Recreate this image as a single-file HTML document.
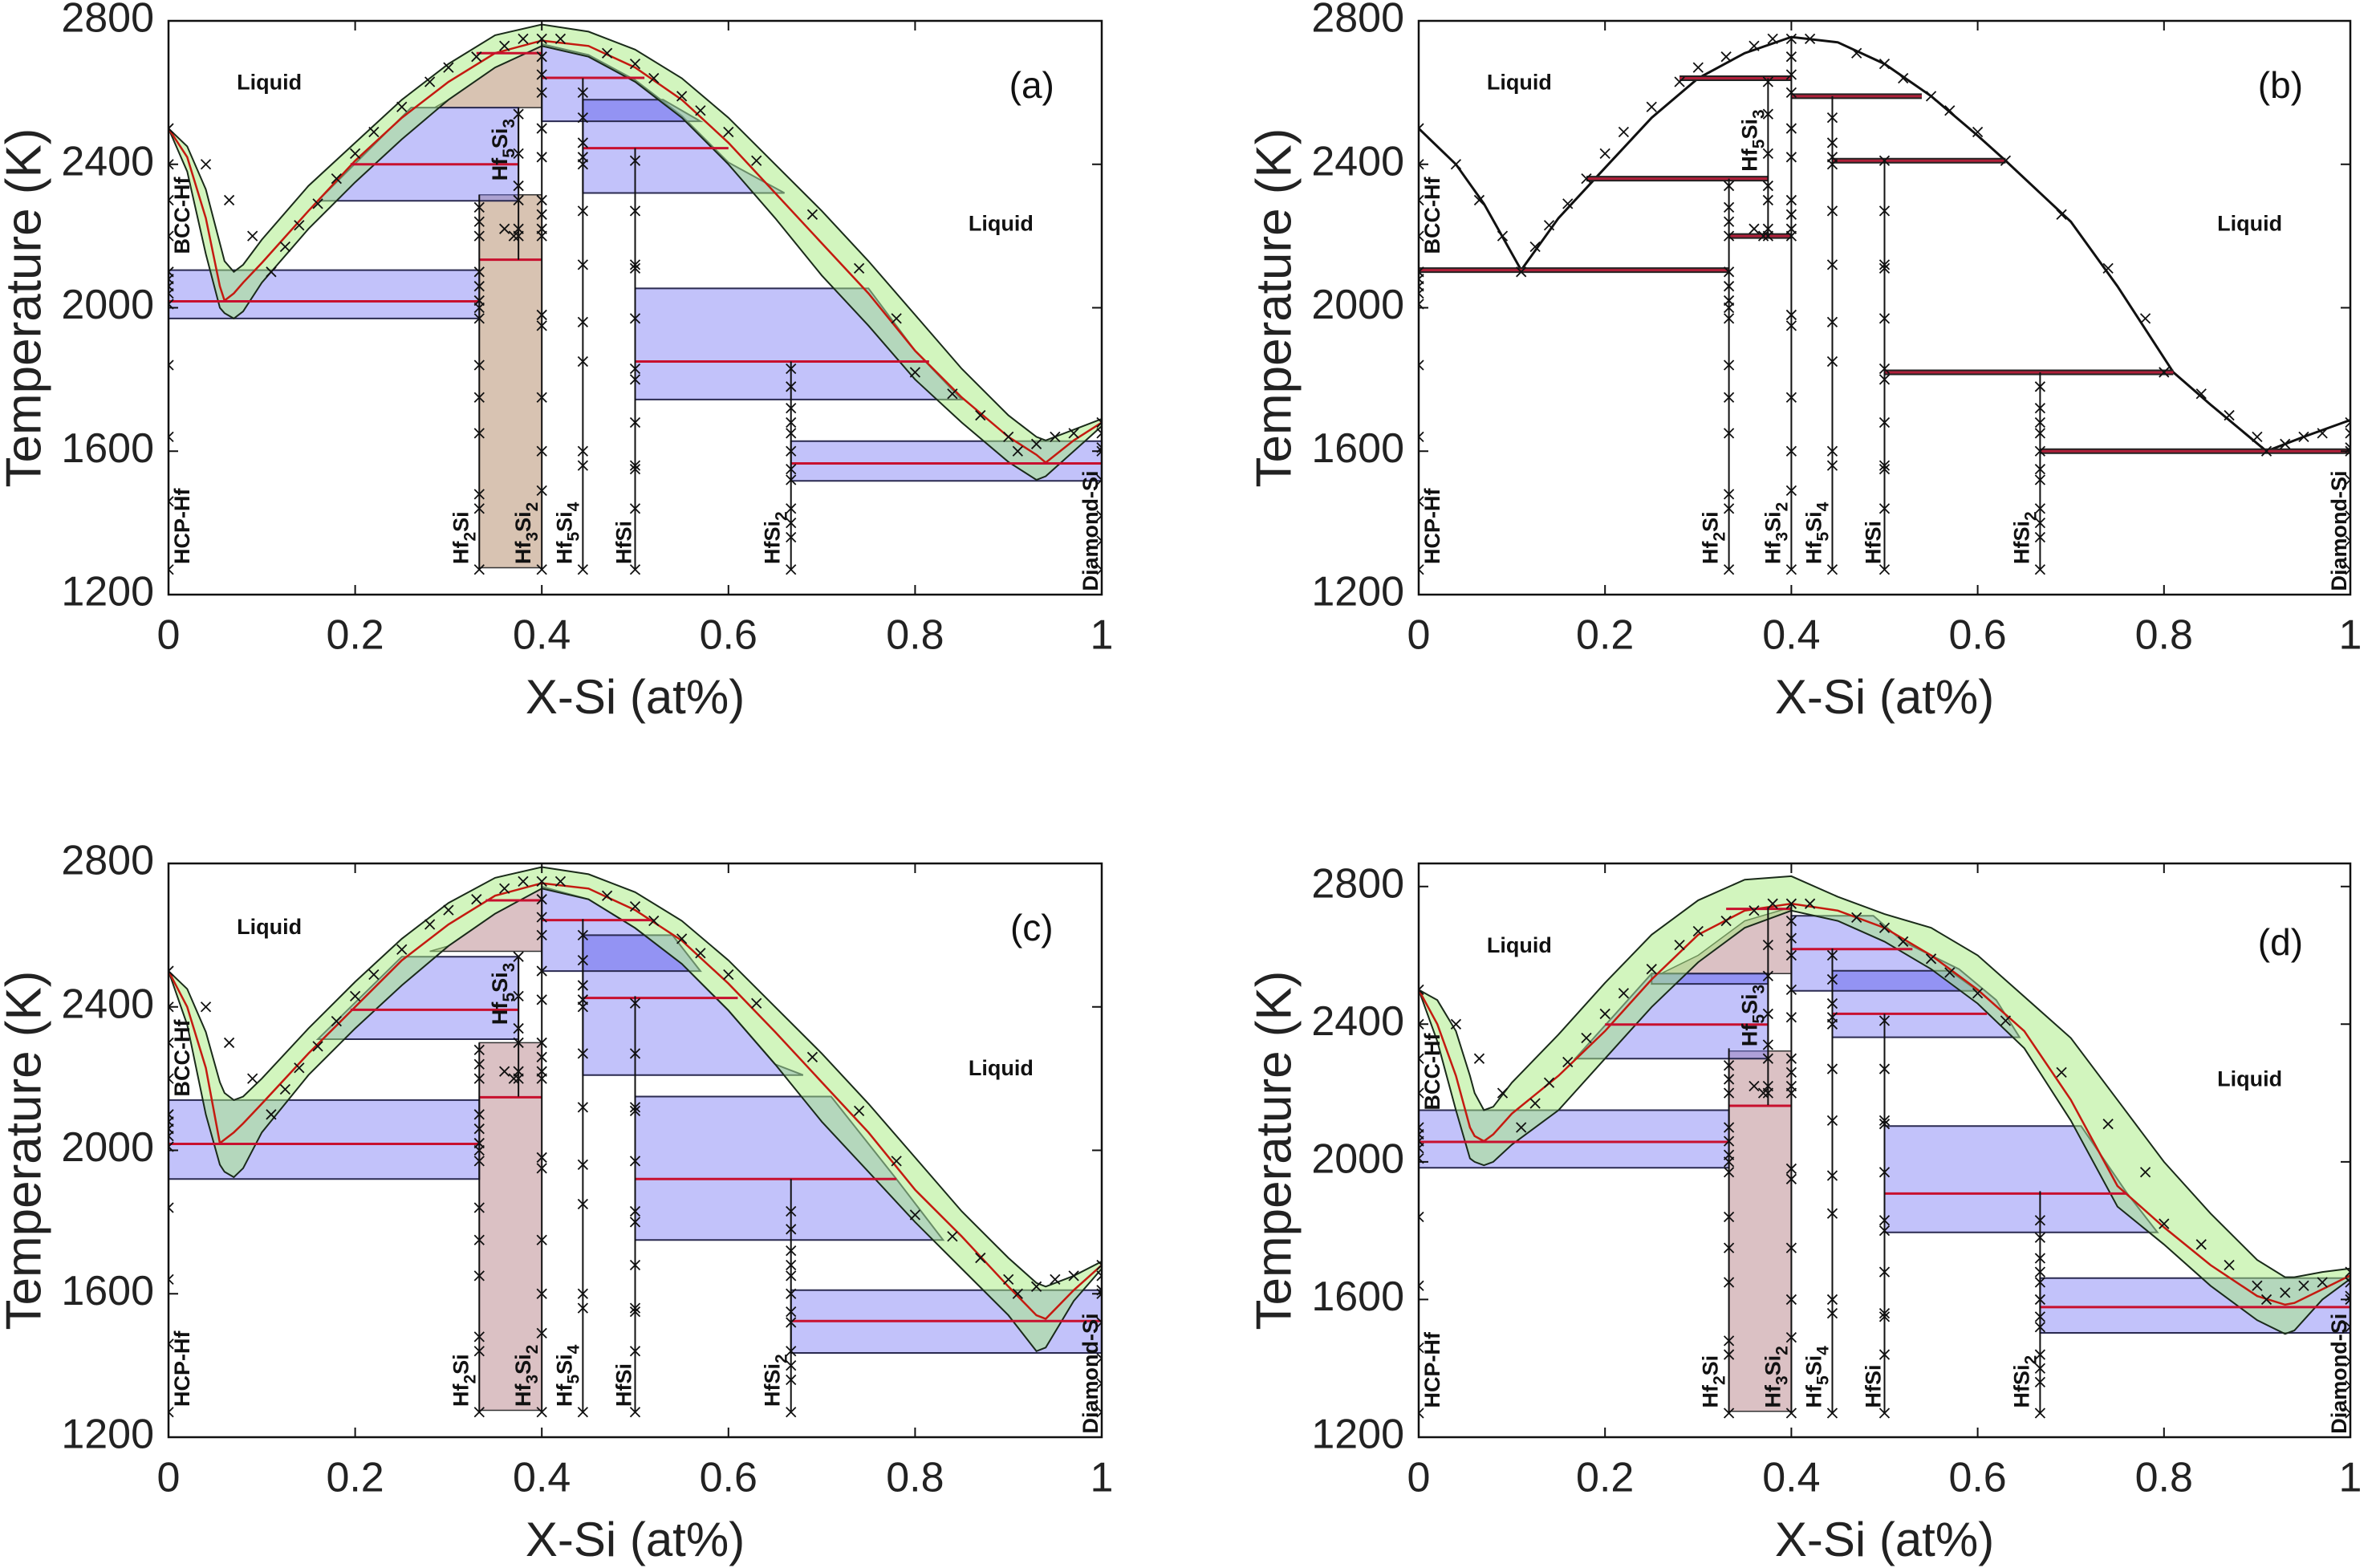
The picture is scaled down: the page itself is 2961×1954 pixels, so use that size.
<!DOCTYPE html>
<html><head><meta charset="utf-8"><style>html,body{margin:0;padding:0;background:#fff}svg{display:block}</style></head>
<body>
<svg id="fig" xmlns="http://www.w3.org/2000/svg" width="2961" height="1954" viewBox="0 0 2961 1954">
<rect x="0" y="0" width="2961" height="1954" fill="#ffffff"/>
</svg>
<script>
// ---------- data ----------
const liqX=[0,0.02,0.04,0.055,0.06,0.07,0.08,0.1,0.15,0.2,0.25,0.3,0.35,0.4,0.45,0.5,0.55,0.6,0.65,0.7,0.75,0.8,0.85,0.9,0.93,0.94,0.97,1];
const aLiqT=[2500,2420,2250,2060,2020,2040,2070,2125,2270,2410,2530,2630,2710,2745,2730,2670,2580,2460,2320,2180,2040,1880,1750,1640,1590,1568,1630,1680];
const aLiqHi=[2500,2450,2330,2180,2130,2100,2120,2190,2340,2460,2580,2680,2760,2790,2770,2720,2640,2530,2400,2270,2130,1980,1830,1700,1640,1630,1660,1690];
const aLiqLo=[2500,2380,2150,2000,1985,1970,1990,2070,2220,2350,2470,2580,2670,2730,2700,2630,2530,2400,2250,2090,1950,1800,1680,1570,1520,1530,1600,1670];
const cLiqT=[2500,2400,2230,2020,2030,2050,2075,2130,2270,2400,2530,2630,2710,2745,2730,2670,2585,2465,2330,2190,2050,1890,1760,1620,1540,1530,1610,1680];
const cLiqHi=[2500,2450,2330,2190,2160,2140,2150,2200,2340,2470,2590,2690,2760,2790,2770,2720,2640,2530,2400,2270,2130,1980,1830,1700,1630,1620,1650,1690];
const cLiqLo=[2500,2350,2100,1960,1940,1925,1950,2050,2210,2340,2460,2570,2660,2730,2700,2620,2520,2390,2240,2080,1940,1800,1670,1540,1440,1450,1580,1670];
const dLiqT=[2500,2400,2250,2100,2075,2060,2080,2140,2250,2380,2530,2660,2730,2750,2730,2680,2600,2500,2380,2180,1930,1810,1700,1610,1585,1590,1630,1670];
const dLiqHi=[2500,2470,2380,2250,2200,2150,2160,2230,2370,2520,2660,2760,2820,2830,2770,2720,2680,2600,2480,2360,2180,2000,1850,1715,1665,1665,1680,1690];
const dLiqLo=[2500,2350,2150,2010,2000,1990,2000,2050,2150,2300,2450,2580,2680,2730,2700,2640,2560,2460,2330,2120,1870,1760,1640,1540,1500,1510,1600,1660];
const bLiqX=[0,0.04,0.07,0.11,0.15,0.2,0.25,0.3,0.35,0.4,0.45,0.5,0.55,0.6,0.63,0.7,0.75,0.81,0.85,0.91,0.95,1];
const bLiqT=[2500,2400,2290,2105,2250,2390,2530,2640,2710,2755,2740,2680,2590,2480,2410,2240,2060,1820,1730,1600,1640,1687];

const aBlue=[[[0,2105],[0.333,2105],[0.333,1970],[0,1970]],[[0.26,2558],[0.375,2558],[0.375,2298],[0.16,2298]],[[0.4,2735],[0.45,2705],[0.5,2635],[0.55,2535],[0.6,2405],[0.66,2320],[0.444,2320],[0.444,2520],[0.4,2520]],[[0.5,2054],[0.75,2054],[0.8,1880],[0.85,1744],[0.5,1744]],[[0.667,1628],[1,1628],[1,1517],[0.667,1517]]];
const aDark=[[[0.444,2580],[0.53,2580],[0.57,2520],[0.444,2520]]];
const aBrown=[[[0.333,2315],[0.4,2315],[0.4,1275],[0.333,1275]],[[0.285,2558],[0.4,2558],[0.4,2730],[0.35,2670],[0.3,2580]]];
const aRed=[[0,0.333,2018],[0.195,0.375,2400],[0.333,0.4,2134],[0.33,0.4,2710],[0.4,0.51,2641],[0.444,0.6,2445],[0.5,0.815,1850],[0.667,1,1566]];

const cBlue=[[[0,2140],[0.333,2140],[0.333,1920],[0,1920]],[[0.25,2540],[0.375,2540],[0.375,2310],[0.16,2310]],[[0.4,2735],[0.45,2700],[0.5,2620],[0.55,2520],[0.6,2390],[0.65,2240],[0.68,2210],[0.444,2210],[0.444,2500],[0.4,2500]],[[0.5,2150],[0.71,2150],[0.78,1920],[0.83,1750],[0.5,1750]],[[0.667,1610],[1,1610],[1,1435],[0.667,1435]]];
const cDark=[[[0.444,2600],[0.54,2600],[0.57,2500],[0.444,2500]]];
const cBrown=[[[0.333,2300],[0.4,2300],[0.4,1275],[0.333,1275]],[[0.28,2555],[0.4,2555],[0.4,2730],[0.35,2660],[0.3,2570]]];
const cRed=[[0,0.333,2018],[0.195,0.375,2392],[0.333,0.4,2148],[0.34,0.4,2697],[0.4,0.52,2642],[0.444,0.61,2425],[0.5,0.78,1920],[0.667,1,1524]];

const dBlue=[[[0,2150],[0.333,2150],[0.333,1983],[0,1983]],[[0.25,2547],[0.375,2547],[0.375,2300],[0.168,2300]],[[0.4,2715],[0.488,2715],[0.52,2640],[0.58,2560],[0.62,2470],[0.645,2362],[0.444,2362],[0.444,2497],[0.4,2497]],[[0.5,2104],[0.711,2104],[0.76,1910],[0.793,1795],[0.5,1795]],[[0.667,1662],[1,1662],[1,1503],[0.667,1503]]];
const dDark=[[[0.444,2555],[0.57,2555],[0.6,2497],[0.444,2497]],[[0.25,2547],[0.375,2547],[0.375,2517],[0.25,2517]]];
const dBrown=[[[0.333,2322],[0.4,2322],[0.4,1275],[0.333,1275]],[[0.26,2547],[0.4,2547],[0.4,2740],[0.35,2700],[0.3,2600]]];
const dRed=[[0,0.333,2058],[0.2,0.375,2399],[0.333,0.4,2163],[0.33,0.4,2735],[0.4,0.53,2618],[0.444,0.61,2430],[0.5,0.76,1908],[0.667,1,1578]];

const bLines=[[0,0.333,2105],[0.18,0.375,2360],[0.28,0.4,2640],[0.333,0.4,2200],[0.4,0.54,2590],[0.444,0.63,2410],[0.5,0.81,1820],[0.667,1,1600]];

const vX=[0.333,0.375,0.4,0.444,0.5,0.667];
const aVTop=[2315,2558,2750,2640,2445,1850]; const aVBot=[1270,2134,1270,1270,1270,1270];
const bVTop=[2360,2640,2755,2590,2410,1820]; const bVBot=[1270,2200,1270,1270,1270,1270];
const cVTop=[2300,2540,2745,2645,2430,1920]; const cVBot=[1270,2150,1270,1270,1270,1270];
const dVTop=[2330,2740,2750,2620,2430,1915]; const dVBot=[1270,2165,1270,1270,1270,1270];

const vCrossT=[[1270,1440,1480,1650,1750,1840,1970,2000,2020,2060,2100,2200,2240,2280,2340],[2200,2220,2300,2340,2430,2540,2630],[1270,1490,1600,1750,1950,1980,2200,2220,2260,2300,2420,2500,2600,2650,2700,2750],[1270,1560,1600,1850,1960,2120,2270,2400,2420,2460,2530,2600],[1270,1440,1550,1560,1680,1800,1830,1970,2110,2120,2270,2410],[1270,1360,1400,1440,1520,1550,1600,1650,1680,1720,1780,1830]];
const edge0T=[1270,1460,1640,1840,2010,2040,2060,2080,2100,2200,2300,2400,2500];
const edge1T=[1270,1350,1420,1520,1600,1610,1650,1680];
const expX=[0.04,0.065,0.09,0.11,0.125,0.14,0.16,0.18,0.2,0.22,0.25,0.28,0.3,0.33,0.36,0.38,0.42,0.47,0.5,0.52,0.55,0.57,0.6,0.63,0.69,0.74,0.78,0.8,0.84,0.87,0.9,0.91,0.93,0.95,0.97,0.37,0.36];
const expT=[2400,2300,2200,2100,2170,2230,2290,2360,2430,2490,2560,2630,2670,2700,2730,2750,2750,2710,2680,2640,2590,2550,2490,2410,2260,2110,1970,1820,1760,1700,1640,1600,1620,1640,1650,2200,2220];

const xTicks=[0,0.2,0.4,0.6,0.8,1];
const xTickLabels=['0','0.2','0.4','0.6','0.8','1'];
const yTicks=[1200,1600,2000,2400,2800];
const yTickLabels=['1200','1600','2000','2400','2800'];

// ---------- drawing ----------
const NS='http://www.w3.org/2000/svg';
const svg=document.getElementById('fig');
function mk(tag,attrs,parent){const e=document.createElementNS(NS,tag);for(const k in attrs)e.setAttribute(k,attrs[k]);parent.appendChild(e);return e;}
const FONT='"Liberation Sans", Arial, sans-serif';

function panel(id,L,D){
  const g=mk('g',{},svg);
  
  
  const sx=x=>L.x0+x*(L.x1-L.x0);
  const sy=t=>L.y1-(t-1200)/(L.tmax-1200)*(L.y1-L.y0);
  const pts=arr=>arr.map(p=>sx(p[0]).toFixed(1)+','+sy(p[1]).toFixed(1)).join(' ');
  const cp=mk('clipPath',{id:'clip'+id},g);
  mk('rect',{x:L.x0,y:L.y0,width:L.x1-L.x0,height:L.y1-L.y0},cp);
  const plot=mk('g',{'clip-path':'url(#clip'+id+')'},g);
  
  
  (D.brown||[]).forEach(p=>{const e=mk('polygon',{points:pts(p),fill:D.brownCol,stroke:'#333','stroke-width':1.5},plot);
    
    });
  (D.blue||[]).forEach(p=>{const e=mk('polygon',{points:pts(p),fill:'rgba(120,120,245,0.45)',stroke:'#2a2a50','stroke-width':2},plot);
    
    });
  (D.dark||[]).forEach(p=>{const e=mk('polygon',{points:pts(p),fill:'rgba(90,90,235,0.45)',stroke:'#2a2a50','stroke-width':2},plot);
    
    });
  if(D.hi){
    const hiP=D.x.map((x,i)=>[x,D.hi[i]]), loP=D.x.map((x,i)=>[x,D.lo[i]]);
    const band=mk('polygon',{points:pts(hiP.concat(loP.slice().reverse())),fill:'rgba(165,235,125,0.5)',stroke:'none'},plot);
    
    
    [hiP,loP].forEach(a=>{const e=mk('polyline',{points:pts(a),fill:'none',stroke:'#1a2a1a','stroke-width':2},plot);
      
      });
    const mid=mk('polyline',{points:pts(D.x.map((x,i)=>[x,D.t[i]])),fill:'none',stroke:'#c41a10','stroke-width':2.5},plot);
    
    
  } else {
    const liq=mk('polyline',{points:pts(D.x.map((x,i)=>[x,D.t[i]])),fill:'none',stroke:'#111','stroke-width':3},plot);
    
    
  }
  (D.red||[]).forEach(r=>{const e=mk('line',{x1:sx(r[0]),x2:sx(r[1]),y1:sy(r[2]),y2:sy(r[2]),stroke:'#c8102e','stroke-width':3},plot);
    
    });
  (D.lines||[]).forEach(r=>{const e=mk('line',{x1:sx(r[0]),x2:sx(r[1]),y1:sy(r[2]),y2:sy(r[2]),stroke:'#222','stroke-width':7},plot);
    
    
    const r2=mk('line',{x1:sx(r[0]),x2:sx(r[1]),y1:sy(r[2]),y2:sy(r[2]),stroke:'#b0203a','stroke-width':3},plot);
    
    });
  vX.forEach((x,i)=>{const e=mk('line',{x1:sx(x),x2:sx(x),y1:sy(D.vBot[i]),y2:sy(D.vTop[i]),stroke:'#111','stroke-width':2},plot);
    
    });
  const cross=(x,t,name)=>{const X=sx(x),Y=sy(t),s=6;
    const e=mk('path',{d:`M${X-s} ${Y-s}L${X+s} ${Y+s}M${X-s} ${Y+s}L${X+s} ${Y-s}`,stroke:'#111','stroke-width':1.8,fill:'none'},plot);
    
    };
  vX.forEach((x,i)=>vCrossT[i].forEach(t=>{if(t>=D.vBot[i]-5&&t<=D.vTop[i]+5)cross(x,t,'compound-data-point');}));
  edge0T.forEach(t=>cross(0,t,'hf-data-point'));
  edge1T.forEach(t=>cross(1,t,'si-data-point'));
  expX.forEach((x,i)=>cross(x,expT[i],'liquidus-data-point'));
  const lab=(txt,x,t,anchor,name)=>{const e=mk('text',{x:sx(x),y:sy(t),'font-family':FONT,'font-weight':'bold','font-size':27,'text-anchor':anchor,'dominant-baseline':'middle',fill:'#111'},g);
    e.textContent=txt;
    
    };
  lab('Liquid',0.108,D.liqL,'middle','liquid-label-left');
  lab('Liquid',0.892,D.liqR,'middle','liquid-label-right');
  const pl=mk('text',{x:sx(0.925),y:sy(D.letT),'font-family':FONT,'font-size':46,'text-anchor':'middle','dominant-baseline':'middle',fill:'#111'},g);
  pl.textContent='('+id+')';
  
  
  const rot=(parts,px,t,name)=>{const Y=sy(t);
    const e=mk('text',{x:px,y:Y,transform:`rotate(-90 ${px} ${Y})`,'font-family':FONT,'font-weight':'bold','font-size':27,fill:'#111'},g);
    
    
    parts.forEach(p=>{const s=mk('tspan',{},e);s.textContent=p[0];
      if(p[1]){s.setAttribute('font-size','21');s.setAttribute('dy','9');}
      else if(p[2]){s.setAttribute('dy','-9');}});};
  rot([['HCP-Hf']],sx(0)+26,1285,'hcp-hf-label');
  rot([['BCC-Hf']],sx(0)+26,D.bccT,'bcc-hf-label');
  rot([['Hf'],['2',1],['Si',0,1]],sx(0.333)-14,1285,'hf2si-label');
  rot([['Hf'],['3',1],['Si',0,1],['2',1]],sx(0.4)-14,1285,'hf3si2-label');
  rot([['Hf'],['5',1],['Si',0,1],['4',1]],sx(0.444)-14,1285,'hf5si4-label');
  rot([['HfSi']],sx(0.5)-5,1285,'hfsi-label');
  rot([['HfSi'],['2',1]],sx(0.667)-14,1285,'hfsi2-label');
  rot([['Diamond-Si']],sx(1)-5,1210,'diamond-si-label');
  rot([['Hf'],['5',1],['Si',0,1],['3',1]],sx(0.375)-14,D.hf53T,'hf5si3-label');
  const box=mk('rect',{x:L.x0,y:L.y0,width:L.x1-L.x0,height:L.y1-L.y0,fill:'none',stroke:'#111','stroke-width':2.5},g);
  
  
  xTicks.forEach((v,i)=>{const X=sx(v);
    const tk=mk('path',{d:`M${X} ${L.y1}v-12M${X} ${L.y0}v12`,stroke:'#111','stroke-width':2},g);
    
    
    const t=mk('text',{x:X,y:L.y1+54,'font-family':FONT,'font-size':52,'text-anchor':'middle','dominant-baseline':'middle',fill:'#222'},g);
    t.textContent=xTickLabels[i];
    
    });
  yTicks.forEach((v,i)=>{const Y=sy(v);
    const tk=mk('path',{d:`M${L.x0} ${Y}h12M${L.x1} ${Y}h-12`,stroke:'#111','stroke-width':2},g);
    
    
    const t=mk('text',{x:L.x0-18,y:Y,'font-family':FONT,'font-size':52,'text-anchor':'end','dominant-baseline':'middle',fill:'#222'},g);
    t.textContent=yTickLabels[i];
    
    });
  const xt=mk('text',{x:(L.x0+L.x1)/2,y:L.y1+132,'font-family':FONT,'font-size':60,'text-anchor':'middle','dominant-baseline':'middle',fill:'#222'},g);
  xt.textContent='X-Si (at%)';
  
  
  const cy=(L.y0+L.y1)/2, cx=L.x0-176;
  const yt=mk('text',{x:cx,y:cy,transform:`rotate(-90 ${cx} ${cy})`,'font-family':FONT,'font-size':62,'text-anchor':'middle','dominant-baseline':'middle',fill:'#222'},g);
  yt.textContent='Temperature (K)';
  
  
}

panel('a',{x0:210,x1:1373,y0:26,y1:741,tmax:2800},{x:liqX,t:aLiqT,hi:aLiqHi,lo:aLiqLo,blue:aBlue,dark:aDark,brown:aBrown,brownCol:'rgba(200,170,145,0.7)',red:aRed,vTop:aVTop,vBot:aVBot,liqL:2625,liqR:2231,letT:2612,bccT:2150,hf53T:2354});
panel('b',{x0:1768,x1:2929,y0:26,y1:741,tmax:2800},{x:bLiqX,t:bLiqT,lines:bLines,vTop:bVTop,vBot:bVBot,liqL:2625,liqR:2231,letT:2612,bccT:2150,hf53T:2380});
panel('c',{x0:210,x1:1373,y0:1076,y1:1791,tmax:2800},{x:liqX,t:cLiqT,hi:cLiqHi,lo:cLiqLo,blue:cBlue,dark:cDark,brown:cBrown,brownCol:'rgba(200,160,165,0.65)',red:cRed,vTop:cVTop,vBot:cVBot,liqL:2619,liqR:2225,letT:2612,bccT:2150,hf53T:2350});
panel('d',{x0:1768,x1:2929,y0:1076,y1:1791,tmax:2867},{x:liqX,t:dLiqT,hi:dLiqHi,lo:dLiqLo,blue:dBlue,dark:dDark,brown:dBrown,brownCol:'rgba(200,160,165,0.65)',red:dRed,vTop:dVTop,vBot:dVBot,liqL:2625,liqR:2237,letT:2630,bccT:2150,hf53T:2335});
</script>
</body></html>
